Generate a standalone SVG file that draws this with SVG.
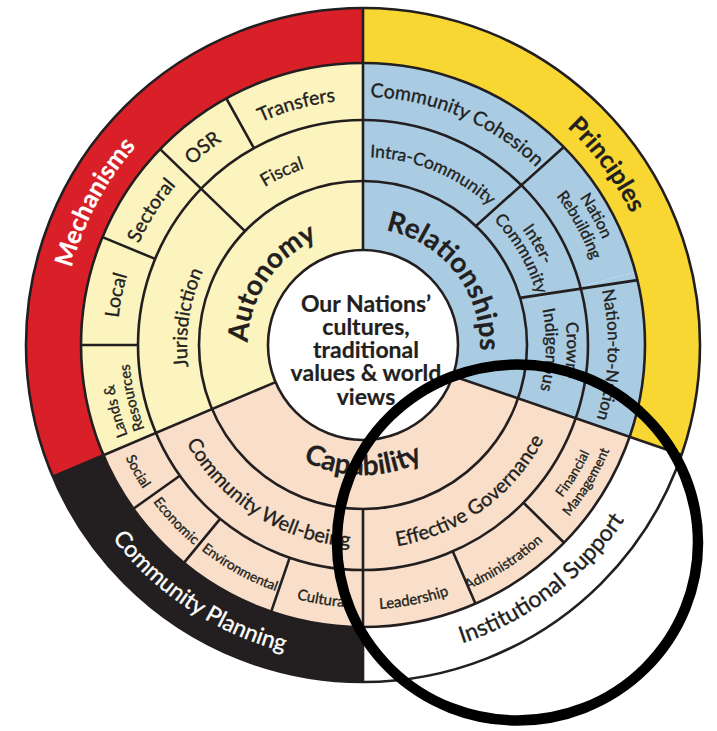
<svg xmlns="http://www.w3.org/2000/svg" width="717" height="731" viewBox="0 0 717 731">
<style>
.t{font-family:Lato,'Open Sans','Liberation Sans',sans-serif;fill:#231f20;stroke:#231f20;stroke-width:0.35}
.b{font-weight:700;stroke-width:0.2}
.w{fill:#ffffff;stroke:#ffffff}
.red{fill:#d91f27}.yel{fill:#f8d733}.ly{fill:#fbf4bf}.blu{fill:#a9cce3}.pch{fill:#f9dfca}.blk{fill:#231f20}.wht{fill:#ffffff}
.ol{fill:none;stroke:#231f20;stroke-width:2.6}
</style>
<defs>
<path id="p-mech" d="M68.1,407.7 A301.5,301.5 0 0 1 250.1,65.5"/>
<path id="p-prin" d="M432.7,54.7 A298.5,298.5 0 0 1 660.9,363.2"/>
<path id="p-auto" d="M259.6,395.4 A115,115 0 0 1 371.0,230.3"/>
<path id="p-rel" d="M326.8,233.7 A117,117 0 0 1 462.2,407.0"/>
<path id="p-jur" d="M221.0,449.0 A176,176 0 0 1 259.1,203.0"/>
<path id="p-fis" d="M220.3,225.7 A186,186 0 0 1 362.7,159"/>
<path id="p-loc" d="M117.5,360.4 A246,246 0 0 1 142.7,235.6"/>
<path id="p-sec" d="M128.3,271.4 A246,246 0 0 1 196.5,163.9"/>
<path id="p-osr" d="M170.0,189.3 A248,248 0 0 1 250.0,124.2"/>
<path id="p-tra" d="M238.7,133.9 A245,245 0 0 1 360.9,100.0"/>
<path id="p-lan" d="M127.7,435.3 A252,252 0 0 1 156.6,200.5"/>
<path id="p-res" d="M144.5,428.9 A234,234 0 0 1 171.3,210.8"/>
<path id="p-coh" d="M311.4,102.4 A248,248 0 0 1 573.3,213.6"/>
<path id="p-intra" d="M321.3,161.7 A188,188 0 0 1 521.0,243.2"/>
<path id="p-inter" d="M461.5,174.4 A197,197 0 0 1 560,345"/>
<path id="p-comm" d="M453.5,188.3 A181,181 0 0 1 544,345"/>
<path id="p-nat" d="M517.0,133.0 A262,262 0 0 1 624.4,326.7"/>
<path id="p-reb" d="M506.4,147.6 A244,244 0 0 1 606.4,328.0"/>
<path id="p-crown" d="M550.1,263.7 A204,204 0 0 1 545.6,436.0"/>
<path id="p-indig" d="M530.8,272.0 A183,183 0 0 1 526.8,426.7"/>
<path id="p-n2n" d="M589.0,250.5 A245,245 0 0 1 580.7,457.4"/>
<path id="p-cap" d="M240.8,389.5 A130,130 0 0 0 485.2,389.5"/>
<path id="p-cwb" d="M165.9,389.1 A202,202 0 0 0 407.1,542.1"/>
<path id="p-eg" d="M331.1,546.5 A204,204 0 0 0 564.5,376.9"/>
<path id="p-lead" d="M345.9,608.9 A264.5,264.5 0 0 0 480.2,582.1"/>
<path id="p-adm" d="M444.3,598.3 A266,266 0 0 0 560.1,523.7"/>
<path id="p-fin" d="M535.8,527.1 A251,251 0 0 0 603.7,416.3"/>
<path id="p-man" d="M547.5,539.4 A268,268 0 0 0 620.0,421.1"/>
<path id="p-cul" d="M256.2,584.8 A262.5,262.5 0 0 0 390.4,606.1"/>
<path id="p-env" d="M166.3,516.6 A261,261 0 0 0 322.6,602.9"/>
<path id="p-eco" d="M132.3,469.2 A262,262 0 0 0 225.3,567.9"/>
<path id="p-soc" d="M114.8,431.9 A263,263 0 0 0 159.5,511.6"/>
<path id="p-cp" d="M59.7,435.4 A316.5,316.5 0 0 0 399.4,659.4"/>
<path id="p-is" d="M348.2,659.2 A314.5,314.5 0 0 0 669.8,414.1"/>
</defs>
<rect width="717" height="731" fill="#ffffff"/>

<!-- outer band -->
<g id="mechanisms"><path class="red" d="M52.8,476.7 A337,337 0 0 1 363,8 L363,63 A282,282 0 0 0 103.4,455.2 Z"/>
<text class="t b w" font-size="25"><textPath href="#p-mech" startOffset="50%" text-anchor="middle">Mechanisms</textPath></text></g>
<g id="principles"><path class="yel" d="M363,8 A337,337 0 0 1 681.6,454.7 L629.6,436.8 A282,282 0 0 0 363,63 Z"/>
<text class="t b" font-size="25"><textPath href="#p-prin" startOffset="50%" text-anchor="middle">Principles</textPath></text></g>
<g id="institutional-support"><path class="wht" d="M681.6,454.7 A337,337 0 0 1 363,682 L363,627 A282,282 0 0 0 629.6,436.8 Z"/>
<text class="t" font-size="23"><textPath href="#p-is" startOffset="50%" text-anchor="middle">Institutional Support</textPath></text></g>
<g id="community-planning"><path class="blk" d="M363,682 A337,337 0 0 1 52.8,476.7 L103.4,455.2 A282,282 0 0 0 363,627 Z"/>
<text class="t w" font-size="23"><textPath href="#p-cp" startOffset="50%" text-anchor="middle">Community Planning</textPath></text></g>

<!-- autonomy quadrant -->
<g id="lands-resources"><path class="ly" d="M103.4,455.2 A282,282 0 0 1 81,345 L138,345 A225,225 0 0 0 155.9,432.9 Z"/>
<text class="t" font-size="15"><textPath href="#p-lan">Lands &amp;</textPath></text>
<text class="t" font-size="15"><textPath href="#p-res">Resources</textPath></text></g>
<g id="local"><path class="ly" d="M81,345 A282,282 0 0 1 102.5,237.1 L155.1,258.9 A225,225 0 0 0 138,345 Z"/>
<text class="t" font-size="19.5"><textPath href="#p-loc" startOffset="50%" text-anchor="middle">Local</textPath></text></g>
<g id="sectoral"><path class="ly" d="M102.5,237.1 A282,282 0 0 1 160.1,149.1 L201.1,188.7 A225,225 0 0 0 155.1,258.9 Z"/>
<text class="t" font-size="19.5"><textPath href="#p-sec" startOffset="50%" text-anchor="middle">Sectoral</textPath></text></g>
<g id="osr"><path class="ly" d="M160.1,149.1 A282,282 0 0 1 226.3,98.4 L253.9,148.2 A225,225 0 0 0 201.1,188.7 Z"/>
<text class="t" font-size="19.5"><textPath href="#p-osr" startOffset="50%" text-anchor="middle">OSR</textPath></text></g>
<g id="transfers"><path class="ly" d="M226.3,98.4 A282,282 0 0 1 363,63 L363,120 A225,225 0 0 0 253.9,148.2 Z"/>
<text class="t" font-size="19.5"><textPath href="#p-tra" startOffset="50%" text-anchor="middle">Transfers</textPath></text></g>
<g id="jurisdiction"><path class="ly" d="M155.9,432.9 A225,225 0 0 1 201.1,188.7 L245.0,231.1 A164,164 0 0 0 212.0,409.1 Z"/>
<text class="t" font-size="19.5"><textPath href="#p-jur" startOffset="50%" text-anchor="middle">Jurisdiction</textPath></text></g>
<g id="fiscal"><path class="ly" d="M201.1,188.7 A225,225 0 0 1 363,120 L363,181 A164,164 0 0 0 245.0,231.1 Z"/>
<text class="t" font-size="18"><textPath href="#p-fis" startOffset="50%" text-anchor="middle">Fiscal</textPath></text></g>
<g id="autonomy"><path class="ly" d="M212.0,409.1 A164,164 0 0 1 363,181 L363,250 A95,95 0 0 0 275.6,382.1 Z"/>
<text class="t b" font-size="28"><textPath href="#p-auto" startOffset="50%" text-anchor="middle">Autonomy</textPath></text></g>

<!-- relationships quadrant -->
<g id="community-cohesion"><path class="blu" d="M363,63 A282,282 0 0 1 560.7,143.9 L520.7,184.5 A225,225 0 0 0 363,120 Z"/>
<text class="t" font-size="19.5"><textPath href="#p-coh" startOffset="50%" text-anchor="middle">Community Cohesion</textPath></text></g>
<g id="nation-rebuilding"><path class="blu" d="M560.7,143.9 A282,282 0 0 1 635.4,272.0 L580.3,286.8 A225,225 0 0 0 520.7,184.5 Z"/>
<text class="t" font-size="16"><textPath href="#p-nat" startOffset="50%" text-anchor="middle">Nation</textPath></text>
<text class="t" font-size="16"><textPath href="#p-reb" startOffset="50%" text-anchor="middle">Rebuilding</textPath></text></g>
<g id="nation-to-nation"><path class="blu" d="M635.4,272.0 A282,282 0 0 1 629.6,436.8 L575.7,418.3 A225,225 0 0 0 580.3,286.8 Z"/>
<text class="t" font-size="17"><textPath href="#p-n2n" startOffset="50%" text-anchor="middle">Nation-to-Nation</textPath></text></g>
<g id="intra-community"><path class="blu" d="M363,120 A225,225 0 0 1 520.7,184.5 L477.9,228.0 A164,164 0 0 0 363,181 Z"/>
<text class="t" font-size="17.5"><textPath href="#p-intra" startOffset="50%" text-anchor="middle">Intra-Community</textPath></text></g>
<g id="inter-community"><path class="blu" d="M520.7,184.5 A225,225 0 0 1 580.3,286.8 L521.4,302.6 A164,164 0 0 0 477.9,228.0 Z"/>
<text class="t" font-size="17"><textPath href="#p-inter" startOffset="50%" text-anchor="middle">Inter-</textPath></text>
<text class="t" font-size="17"><textPath href="#p-comm" startOffset="50%" text-anchor="middle">Community</textPath></text></g>
<g id="crown-indigenous"><path class="blu" d="M580.3,286.8 A225,225 0 0 1 575.7,418.3 L518.1,398.4 A164,164 0 0 0 521.4,302.6 Z"/>
<text class="t" font-size="17"><textPath href="#p-crown" startOffset="50%" text-anchor="middle">Crown-</textPath></text>
<text class="t" font-size="17"><textPath href="#p-indig" startOffset="50%" text-anchor="middle">Indigenous</textPath></text></g>
<g id="relationships"><path class="blu" d="M363,181 A164,164 0 0 1 518.1,398.4 L452.8,375.9 A95,95 0 0 0 363,250 Z"/>
<text class="t b" font-size="28"><textPath href="#p-rel" startOffset="50%" text-anchor="middle">Relationships</textPath></text></g>

<!-- capability quadrant -->
<g id="financial-management"><path class="pch" d="M629.6,436.8 A282,282 0 0 1 564.1,542.7 L523.5,502.7 A225,225 0 0 0 575.7,418.3 Z"/>
<text class="t" font-size="13.5"><textPath href="#p-fin" startOffset="50%" text-anchor="middle">Financial</textPath></text>
<text class="t" font-size="13.5"><textPath href="#p-man" startOffset="50%" text-anchor="middle">Management</textPath></text></g>
<g id="administration"><path class="pch" d="M564.1,542.7 A282,282 0 0 1 475.4,603.6 L452.7,551.3 A225,225 0 0 0 523.5,502.7 Z"/>
<text class="t" font-size="14"><textPath href="#p-adm" startOffset="50%" text-anchor="middle">Administration</textPath></text></g>
<g id="leadership"><path class="pch" d="M475.4,603.6 A282,282 0 0 1 363,627 L363,570 A225,225 0 0 0 452.7,551.3 Z"/>
<text class="t" font-size="15"><textPath href="#p-lead" startOffset="50%" text-anchor="middle">Leadership</textPath></text></g>
<g id="cultural"><path class="pch" d="M363,627 A282,282 0 0 1 271.2,611.6 L289.7,557.7 A225,225 0 0 0 363,570 Z"/>
<text class="t" font-size="15"><textPath href="#p-cul" startOffset="50%" text-anchor="middle">Cultural</textPath></text></g>
<g id="environmental"><path class="pch" d="M271.2,611.6 A282,282 0 0 1 183.9,562.8 L220.1,518.8 A225,225 0 0 0 289.7,557.7 Z"/>
<text class="t" font-size="13.5"><textPath href="#p-env" startOffset="50%" text-anchor="middle">Environmental</textPath></text></g>
<g id="economic"><path class="pch" d="M183.9,562.8 A282,282 0 0 1 133.4,508.8 L179.8,475.7 A225,225 0 0 0 220.1,518.8 Z"/>
<text class="t" font-size="14"><textPath href="#p-eco" startOffset="50%" text-anchor="middle">Economic</textPath></text></g>
<g id="social"><path class="pch" d="M133.4,508.8 A282,282 0 0 1 103.4,455.2 L155.9,432.9 A225,225 0 0 0 179.8,475.7 Z"/>
<text class="t" font-size="14"><textPath href="#p-soc" startOffset="50%" text-anchor="middle">Social</textPath></text></g>
<g id="effective-governance"><path class="pch" d="M575.7,418.3 A225,225 0 0 1 363,570 L363,509 A164,164 0 0 0 518.1,398.4 Z"/>
<text class="t" font-size="20"><textPath href="#p-eg" startOffset="50%" text-anchor="middle">Effective Governance</textPath></text></g>
<g id="community-well-being"><path class="pch" d="M363,570 A225,225 0 0 1 155.9,432.9 L212.0,409.1 A164,164 0 0 0 363,509 Z"/>
<text class="t" font-size="20"><textPath href="#p-cwb" startOffset="50%" text-anchor="middle">Community Well-being</textPath></text></g>
<g id="capability"><path class="pch" d="M518.1,398.4 A164,164 0 0 1 212.0,409.1 L275.6,382.1 A95,95 0 0 0 452.8,375.9 Z"/>
<text class="t b" font-size="28"><textPath href="#p-cap" startOffset="50%" text-anchor="middle">Capability</textPath></text></g>

<!-- center -->
<g id="center"><circle cx="363" cy="345" r="95" fill="#ffffff"/>
<text class="t b" font-size="23" text-anchor="middle"><tspan x="366" y="312">Our Nations’</tspan><tspan x="366" y="335">cultures,</tspan><tspan x="366" y="358">traditional</tspan><tspan x="366" y="381">values &amp; world</tspan><tspan x="366" y="405">views</tspan></text></g>

<!-- outlines / dividers -->
<g id="connectors" class="ol">
<circle cx="363" cy="345" r="337"/>
<circle cx="363" cy="345" r="282"/>
<circle cx="363" cy="345" r="225"/>
<circle cx="363" cy="345" r="164"/>
<circle cx="363" cy="345" r="95"/>
<path d="M363,250 L363,8 M452.8,375.9 L681.6,454.7 M275.6,382.1 L52.8,476.7 M363,509 L363,682"/>
<path d="M245.0,231.1 L160.1,149.1 M138,345 L81,345 M155.1,258.9 L102.5,237.1 M253.9,148.2 L226.3,98.4"/>
<path d="M475.9,226.0 L563.8,147.0 M520.1,297.9 L637.4,280.1"/>
<path d="M523.5,502.7 L564.1,542.7 M452.7,551.3 L475.4,603.6 M289.7,557.7 L271.2,611.6 M220.1,518.8 L183.9,562.8 M179.8,475.7 L133.4,508.8"/>
</g>

<!-- highlight ring -->
<g id="highlight"><ellipse cx="517.5" cy="542.5" rx="180.5" ry="178" fill="none" stroke="#000000" stroke-width="10.5"/></g>
</svg>
